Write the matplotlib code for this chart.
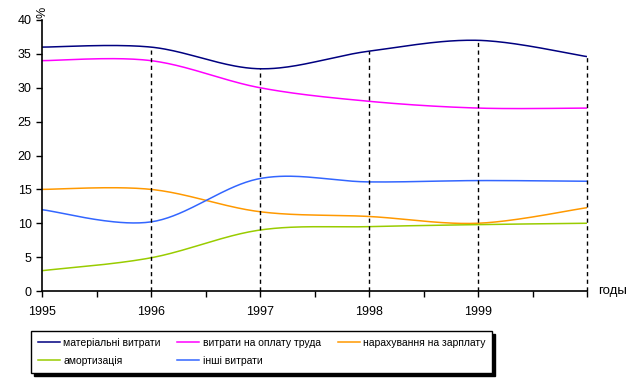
import numpy as np
import matplotlib.pyplot as plt

years = [1995, 1996, 1997, 1998, 1999, 2000]
year_labels = ["1995", "1996", "1997", "1998", "1999", ""]

material = [36.0, 36.0, 32.8, 35.4, 37.0, 34.6]
wages = [34.0, 34.0, 30.0, 28.0, 27.0, 27.0]
accruals = [15.0, 15.0, 11.7, 11.0, 10.0, 12.3]
depreciation = [3.0, 4.9, 9.0, 9.5, 9.8, 10.0]
other = [12.0, 10.2, 16.6, 16.1, 16.3, 16.2]

names = ["матеріальні витрати", "витрати на оплату труда",
         "нарахування на зарплату", "амортизація", "інші витрати"]
colors = ["#000080", "#FF00FF", "#FF9900", "#99CC00", "#3366FF"]


def smooth(x, y, n=40):
    # excel-like smoothed line: bezier segments through the points
    x = np.asarray(x, float)
    y = np.asarray(y, float)
    px = np.concatenate([[x[0]], x, [x[-1]]])
    py = np.concatenate([[y[0]], y, [y[-1]]])
    xs, ys = [], []
    t = np.linspace(0, 1, n)
    for i in range(1, len(px) - 2):
        p0 = np.array([px[i], py[i]])
        p3 = np.array([px[i + 1], py[i + 1]])
        p1 = p0 + (np.array([px[i + 1], py[i + 1]]) - np.array([px[i - 1], py[i - 1]])) / 6
        p2 = p3 - (np.array([px[i + 2], py[i + 2]]) - np.array([px[i], py[i]])) / 6
        b = ((1 - t) ** 3)[:, None] * p0 + (3 * (1 - t) ** 2 * t)[:, None] * p1 \
            + (3 * (1 - t) * t ** 2)[:, None] * p2 + (t ** 3)[:, None] * p3
        xs.extend(b[:, 0])
        ys.extend(b[:, 1])
    return xs, ys


plt.rcParams['font.family'] = ['Liberation Sans', 'DejaVu Sans']

fig = plt.figure(figsize=(6.34, 3.85), dpi=100)
ax = fig.add_axes([42 / 634, 1 - 291 / 385, 545 / 634, 271 / 385])

series = [material, wages, accruals, depreciation, other]
handles = []
for vals, name, col in zip(series, names, colors):
    sx, sy = smooth(years, vals)
    h, = ax.plot(sx, sy, color=col, lw=1.1, label=name)
    handles.append(h)

ax.vlines(years[1:], 0, material[1:], colors="black", linestyles=(0, (3, 2.5)),
          lw=1, clip_on=False)

ax.set_xlim(1995, 2000)
ax.set_ylim(0, 40)
ax.set_yticks(range(0, 41, 5))
ax.set_xticks(years)
ax.set_xticklabels(year_labels)
ax.set_xticks(np.arange(1995.5, 2000, 1), minor=True)
ax.tick_params(axis="both", labelsize=9, length=4, width=1, colors="black")
ax.tick_params(axis="x", which="minor", length=4, width=1)
ax.tick_params(axis="x", pad=7)
for s in ["top", "right"]:
    ax.spines[s].set_visible(False)
for s in ["left", "bottom"]:
    ax.spines[s].set_linewidth(1.2)

fig.text(42 / 634, 1 - 12 / 385, "%", rotation=90, fontsize=9, ha="center", va="center")
fig.text(598 / 634, 1 - 291 / 385, "годы", fontsize=9.5, ha="left", va="center")

order = [0, 3, 1, 4, 2]
leg = fig.legend([handles[i] for i in order], [names[i] for i in order],
                 ncol=3, loc="upper left",
                 bbox_to_anchor=(31 / 634, 1 - 331 / 385),
                 fontsize=7.5, frameon=True, fancybox=False,
                 edgecolor="black", handlelength=2.1, handletextpad=0.35,
                 columnspacing=1.6, borderaxespad=0, borderpad=0.65,
                 labelspacing=0.8,
                 shadow={"facecolor": "black", "edgecolor": "black", "alpha": 1})
leg.get_frame().set_linewidth(1)

fig.savefig("out.png", dpi=100)
